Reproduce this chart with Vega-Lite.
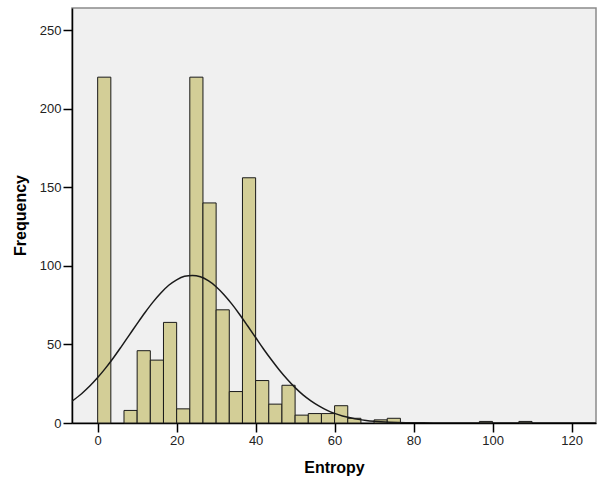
{
  "$schema": "https://vega.github.io/schema/vega-lite/v6.json",
  "width": 524,
  "height": 415,
  "autosize": {"type": "none"},
  "padding": {"left": 72, "top": 8, "right": 1, "bottom": 55},
  "background": "#ffffff",
  "config": {
    "view": {"fill": "#F0F0F0", "stroke": "#8a8a8a", "strokeWidth": 1.5},
    "font": "Liberation Sans",
    "axis": {
      "grid": false,
      "domainColor": "#000000",
      "domainWidth": 1.5,
      "tickColor": "#000000",
      "tickWidth": 1.5,
      "tickSize": 9,
      "labelFont": "Liberation Sans",
      "labelFontSize": 13,
      "labelColor": "#222222",
      "labelPadding": 2,
      "titleFont": "Liberation Sans",
      "titleFontSize": 16,
      "titleFontWeight": "bold",
      "titleColor": "#000000"
    }
  },
  "datasets": {
    "bins": [
      {"start": 0, "end": 3.333, "count": 220},
      {"start": 6.667, "end": 10, "count": 8},
      {"start": 10, "end": 13.333, "count": 46},
      {"start": 13.333, "end": 16.667, "count": 40},
      {"start": 16.667, "end": 20, "count": 64},
      {"start": 20, "end": 23.333, "count": 9},
      {"start": 23.333, "end": 26.667, "count": 220},
      {"start": 26.667, "end": 30, "count": 140},
      {"start": 30, "end": 33.333, "count": 72},
      {"start": 33.333, "end": 36.667, "count": 20},
      {"start": 36.667, "end": 40, "count": 156},
      {"start": 40, "end": 43.333, "count": 27},
      {"start": 43.333, "end": 46.667, "count": 12},
      {"start": 46.667, "end": 50, "count": 24},
      {"start": 50, "end": 53.333, "count": 5},
      {"start": 53.333, "end": 56.667, "count": 6},
      {"start": 56.667, "end": 60, "count": 6},
      {"start": 60, "end": 63.333, "count": 11},
      {"start": 63.333, "end": 66.667, "count": 3},
      {"start": 70, "end": 73.333, "count": 2},
      {"start": 73.333, "end": 76.667, "count": 3},
      {"start": 96.667, "end": 100, "count": 1},
      {"start": 106.667, "end": 110, "count": 1}
    ],
    "curve": [
      {"x": -6.5, "y": 13.9},
      {"x": -4, "y": 18.8},
      {"x": -2, "y": 23.5},
      {"x": 0, "y": 28.9},
      {"x": 2, "y": 34.9},
      {"x": 4, "y": 41.5},
      {"x": 6, "y": 48.6},
      {"x": 8, "y": 55.9},
      {"x": 10, "y": 63.2},
      {"x": 12, "y": 70.3},
      {"x": 14, "y": 76.9},
      {"x": 16, "y": 82.7},
      {"x": 18, "y": 87.6},
      {"x": 20, "y": 91.1},
      {"x": 22, "y": 93.3},
      {"x": 24, "y": 93.9},
      {"x": 26, "y": 93.0},
      {"x": 28, "y": 90.5},
      {"x": 30, "y": 86.7},
      {"x": 32, "y": 81.6},
      {"x": 34, "y": 75.6},
      {"x": 36, "y": 68.9},
      {"x": 38, "y": 61.7},
      {"x": 40, "y": 54.4},
      {"x": 42, "y": 47.1},
      {"x": 44, "y": 40.2},
      {"x": 46, "y": 33.7},
      {"x": 48, "y": 27.8},
      {"x": 50, "y": 22.5},
      {"x": 52, "y": 17.9},
      {"x": 54, "y": 14.1},
      {"x": 56, "y": 10.9},
      {"x": 58, "y": 8.2},
      {"x": 60, "y": 6.1},
      {"x": 62, "y": 4.5},
      {"x": 64, "y": 3.3},
      {"x": 66, "y": 2.3},
      {"x": 68, "y": 1.6},
      {"x": 70, "y": 1.1},
      {"x": 74, "y": 0.5},
      {"x": 78, "y": 0.2},
      {"x": 85, "y": 0.05},
      {"x": 95, "y": 0},
      {"x": 126.2, "y": 0}
    ]
  },
  "layer": [
    {
      "data": {"name": "bins"},
      "mark": {"type": "rect", "fill": "#D3CE97", "stroke": "#1a1a1a", "strokeWidth": 1},
      "encoding": {
        "x": {
          "field": "start",
          "type": "quantitative",
          "scale": {"domain": [-6.5, 126.2], "nice": false, "zero": false},
          "axis": {"values": [0, 20, 40, 60, 80, 100, 120], "title": "Entropy", "titleY": 44, "titleBaseline": "middle"}
        },
        "x2": {"field": "end"},
        "y": {
          "field": "count",
          "type": "quantitative",
          "scale": {"domain": [0, 264], "nice": false},
          "axis": {"values": [0, 50, 100, 150, 200, 250], "title": "Frequency", "titleX": -52, "titleY": 207, "titleAngle": -90, "titleAlign": "center", "titleBaseline": "middle"}
        },
        "y2": {"datum": 0}
      }
    },
    {
      "data": {"name": "curve"},
      "mark": {"type": "line", "color": "#1a1a1a", "strokeWidth": 1.5, "interpolate": "monotone", "clip": true},
      "encoding": {
        "x": {"field": "x", "type": "quantitative"},
        "y": {"field": "y", "type": "quantitative"}
      }
    }
  ]
}
